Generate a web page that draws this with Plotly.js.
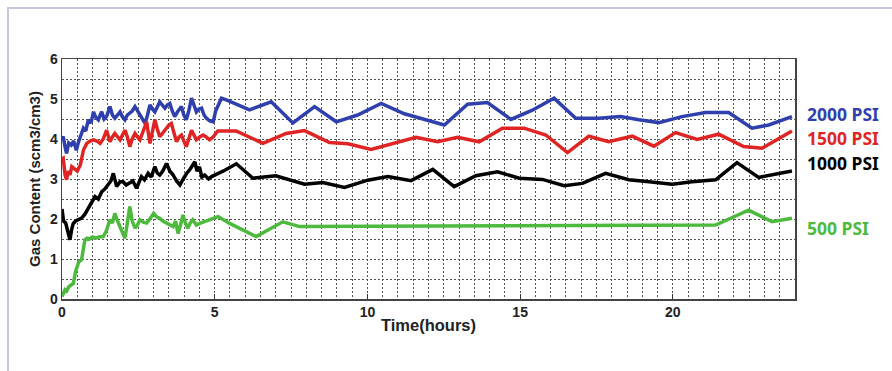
<!DOCTYPE html>
<html>
<head>
<meta charset="utf-8">
<script src="https://cdn.plot.ly/plotly-3.0.1.min.js"></script>
<style>
  html, body { margin: 0; padding: 0; background: #fff; }
  #wrap { position: relative; width: 892px; height: 371px; overflow: hidden; }
  #chart { position: absolute; left: 0; top: 0; width: 892px; height: 371px; }
  #frame { position: absolute; left: 7px; top: 7px; right: -10px; bottom: -10px;
           border-left: 2px solid #c6c6de; border-top: 2px solid #c6c6de; pointer-events: none; }
</style>
</head>
<body>
<div id="wrap"><div id="chart"></div><div id="frame"></div></div>
<script>
// ---- Data (hours, scm3/cm3) ----
const seriesNames = ["2000 PSI", "1500 PSI", "1000 PSI", "500 PSI"];
const seriesColors = ["#2f3fae", "#e02424", "#000000", "#4dba3e"];

const time2000 = [0, 0.04, 0.1, 0.15, 0.22, 0.3, 0.38, 0.47, 0.53, 0.6,
  0.7, 0.78, 0.86, 0.95, 1.03, 1.1, 1.19, 1.25, 1.3, 1.38,
  1.46, 1.52, 1.57, 1.65, 1.73, 1.82, 1.9, 1.98, 2.06, 2.14,
  2.22, 2.3, 2.39, 2.47, 2.55, 2.63, 2.72, 2.8, 2.88, 2.96,
  3.04, 3.12, 3.2, 3.28, 3.37, 3.45, 3.53, 3.61, 3.69, 3.8,
  3.91, 3.99, 4.07, 4.15, 4.24, 4.32, 4.4, 4.48, 4.57, 4.65,
  4.73, 4.84, 4.95, 5.03, 5.11, 5.22, 5.38, 6.14, 6.85, 7.56,
  8.27, 8.98, 9.68, 10.45, 11.21, 11.92, 12.52, 13.28, 13.93, 14.7,
  15.4, 16.11, 16.82, 17.58, 18.29, 18.89, 19.54, 20.3, 21.07, 21.83,
  22.59, 23.14, 23.9];
const gas2000 = [4.0, 4.06, 3.8, 3.64, 3.9, 3.85, 3.95, 3.72, 3.9, 4.06,
  4.27, 4.2, 4.48, 4.4, 4.68, 4.55, 4.48, 4.6, 4.68, 4.5,
  4.56, 4.7, 4.81, 4.6, 4.52, 4.6, 4.68, 4.55, 4.48, 4.6,
  4.64, 4.7, 4.81, 4.7, 4.6, 4.5, 4.39, 4.6, 4.85, 4.75,
  4.68, 4.8, 4.93, 4.85, 4.77, 4.85, 4.89, 4.7, 4.56, 4.7,
  4.81, 4.6, 4.48, 4.7, 5.02, 4.85, 4.68, 4.75, 4.77, 4.6,
  4.52, 4.45, 4.43, 4.7, 4.85, 5.02, 4.98, 4.73, 4.93, 4.4,
  4.81, 4.43, 4.6, 4.89, 4.63, 4.48, 4.35, 4.87, 4.91, 4.49,
  4.72, 5.02, 4.52, 4.52, 4.56, 4.48, 4.41, 4.56, 4.66, 4.66,
  4.27, 4.35, 4.56];

const time1500 = [0, 0.04, 0.1, 0.15, 0.2, 0.26, 0.32, 0.4, 0.5, 0.6,
  0.7, 0.81, 0.92, 1.03, 1.14, 1.25, 1.35, 1.46, 1.57, 1.65,
  1.73, 1.82, 1.9, 1.98, 2.06, 2.14, 2.22, 2.3, 2.39, 2.47,
  2.55, 2.66, 2.77, 2.88, 2.96, 3.04, 3.12, 3.2, 3.3, 3.42,
  3.5, 3.58, 3.67, 3.75, 3.83, 3.91, 3.99, 4.07, 4.15, 4.24,
  4.32, 4.4, 4.51, 4.62, 4.72, 4.83, 4.95, 5.1, 5.7, 6.58,
  7.34, 7.94, 8.76, 9.36, 10.12, 10.77, 11.59, 12.3, 12.95, 13.66,
  14.42, 15.13, 15.84, 16.55, 17.25, 17.9, 18.67, 19.38, 20.09, 20.8,
  21.5, 22.32, 22.92, 23.9];
const gas1500 = [3.5, 3.52, 3.1, 2.98, 3.2, 3.1, 3.31, 3.25, 3.2, 3.35,
  3.72, 3.89, 3.95, 3.98, 3.95, 3.89, 4.0, 4.22, 3.93, 4.05,
  4.14, 4.05, 3.98, 4.1, 4.22, 4.05, 3.81, 4.0, 4.14, 4.05,
  3.98, 4.2, 4.43, 3.89, 4.2, 4.48, 4.25, 4.06, 4.15, 4.27,
  4.35, 4.39, 4.15, 3.93, 4.05, 4.1, 3.95, 3.81, 4.0, 4.22,
  4.1, 3.98, 4.05, 4.1, 4.05, 3.98, 4.05, 4.2, 4.2, 3.89,
  4.14, 4.21, 3.91, 3.88, 3.74, 3.88, 4.04, 3.93, 4.04, 3.93,
  4.27, 4.27, 4.1, 3.66, 4.07, 3.93, 4.07, 3.82, 4.16, 3.99,
  4.12, 3.81, 3.77, 4.2];

const time1000 = [0, 0.05, 0.12, 0.2, 0.26, 0.32, 0.37, 0.45, 0.55, 0.64,
  0.75, 0.86, 0.97, 1.08, 1.19, 1.3, 1.4, 1.51, 1.6, 1.68,
  1.79, 1.9, 2.0, 2.1, 2.2, 2.32, 2.44, 2.52, 2.6, 2.7,
  2.82, 2.92, 3.04, 3.12, 3.2, 3.3, 3.42, 3.53, 3.64, 3.75,
  3.86, 3.97, 4.08, 4.2, 4.35, 4.42, 4.5, 4.58, 4.67, 4.8,
  4.9, 5.33, 5.71, 6.25, 7.0, 7.94, 8.54, 9.25, 10.01, 10.67,
  11.43, 12.14, 12.84, 13.55, 14.26, 14.97, 15.73, 16.44, 17.04, 17.8,
  18.56, 19.22, 19.98, 20.63, 21.4, 22.1, 22.81, 23.9];
const gas1000 = [2.25, 1.95, 1.9, 1.7, 1.48, 1.75, 1.89, 1.95, 1.98, 2.02,
  2.12, 2.27, 2.4, 2.56, 2.5, 2.68, 2.75, 2.85, 2.95, 3.14,
  2.81, 2.93, 2.93, 2.85, 2.9, 2.95, 2.77, 2.9, 3.06, 2.98,
  3.14, 3.05, 3.31, 3.15, 3.1, 3.2, 3.39, 3.2, 3.1, 2.95,
  2.85, 3.0, 3.14, 3.25, 3.43, 3.2, 3.3, 3.05, 3.1, 3.0,
  3.06, 3.22, 3.38, 3.02, 3.08, 2.87, 2.91, 2.79, 2.97, 3.06,
  2.96, 3.24, 2.81, 3.08, 3.18, 3.02, 2.99, 2.83, 2.89, 3.14,
  2.98, 2.93, 2.87, 2.93, 2.98, 3.41, 3.04, 3.2];

const time500 = [0, 0.05, 0.1, 0.15, 0.22, 0.3, 0.37, 0.45, 0.55, 0.64,
  0.7, 0.75, 0.82, 0.9, 1.0, 1.1, 1.2, 1.35, 1.45, 1.57,
  1.65, 1.73, 1.82, 1.9, 1.98, 2.06, 2.14, 2.22, 2.3, 2.39,
  2.47, 2.55, 2.66, 2.77, 2.88, 3.0, 3.1, 3.2, 3.3, 3.42,
  3.53, 3.64, 3.72, 3.8, 3.88, 3.96, 4.04, 4.12, 4.2, 4.28,
  4.4, 4.51, 5.11, 5.49, 6.36, 7.23, 7.78, 15.0, 21.4, 22.48,
  23.25, 23.9];
const gas500 = [0.06, 0.15, 0.23, 0.2, 0.3, 0.35, 0.39, 0.7, 0.93, 0.98,
  1.2, 1.48, 1.52, 1.5, 1.55, 1.52, 1.55, 1.56, 1.7, 1.98,
  1.9, 2.14, 1.95, 1.81, 1.7, 1.52, 1.9, 2.31, 1.95, 1.77,
  1.85, 1.98, 1.92, 1.9, 2.0, 2.14, 2.05, 2.02, 1.95, 1.9,
  1.85, 1.81, 1.95, 1.64, 1.85, 2.1, 1.9, 1.77, 1.9, 1.98,
  1.85, 1.89, 2.06, 1.89, 1.56, 1.93, 1.81, 1.84, 1.85, 2.22,
  1.93, 2.02];

const xTickVals = [0, 5, 10, 15, 20];
const yTickVals = [0, 1, 2, 3, 4, 5, 6];
const labelY = [4.63, 4.02, 3.4, 1.78];   // where each series label sits (data units)

// ---- Build traces ----
const times = [time2000, time1500, time1000, time500];
const gases = [gas2000, gas1500, gas1000, gas500];
const traces = times.map((t, i) => ({
  x: t, y: gases[i], type: "scatter", mode: "lines", name: seriesNames[i],
  line: { color: seriesColors[i], width: 3.5 }, showlegend: false, hoverinfo: "skip"
}));

const tickFont = { family: "Liberation Sans, Arial, sans-serif", size: 14, color: "#222", weight: 700 };
const gridStyle = { gridcolor: "#555", griddash: "2px,2px", gridwidth: 1 };

const annotations = seriesNames.map((n, i) => ({
  xref: "paper", yref: "y", x: 1.014, y: labelY[i], xanchor: "left", yanchor: "middle",
  text: n, showarrow: false,
  font: { family: "Noto Sans, Open Sans, sans-serif", size: 17.5, color: seriesColors[i], weight: 700 }
}));

const layout = {
  width: 892, height: 371,
  margin: { l: 62, r: 97, t: 59, b: 72 },
  paper_bgcolor: "rgba(0,0,0,0)", plot_bgcolor: "#fff",
  xaxis: {
    range: [0, 24], tickvals: xTickVals, ticktext: xTickVals.map(String),
    ticks: "inside", ticklen: 5, tickcolor: "#333",
    showline: true, mirror: true, linecolor: "#444", linewidth: 1.5,
    showgrid: true, ...gridStyle, zeroline: false,
    minor: { dtick: 0.5, tick0: 0, showgrid: true, ...gridStyle },
    tickfont: tickFont,
    title: { text: "Time(hours)", font: { ...tickFont, size: 16.5 }, standoff: 0 }
  },
  yaxis: {
    range: [0, 6], tickvals: yTickVals, ticktext: yTickVals.map(String),
    ticks: "", showline: true, mirror: true, linecolor: "#444", linewidth: 1.5,
    showgrid: true, ...gridStyle, zeroline: false,
    minor: { dtick: 0.5, tick0: 0, showgrid: true, ...gridStyle },
    tickfont: tickFont,
    title: { text: "Gas Content (scm3/cm3)", font: { ...tickFont, size: 15 }, standoff: 5 }
  },
  annotations: annotations
};

Plotly.newPlot("chart", traces, layout, { displayModeBar: false, staticPlot: true });
</script>
</body>
</html>
